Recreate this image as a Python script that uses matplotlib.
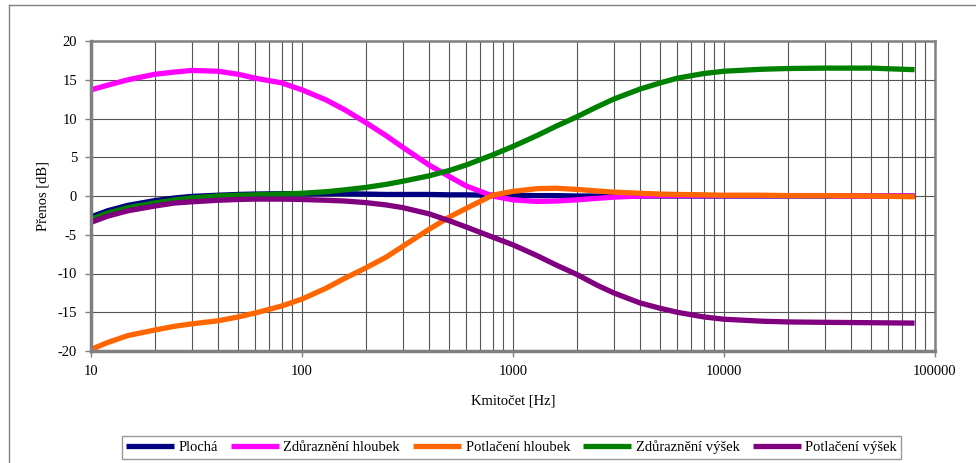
import matplotlib
matplotlib.use('Agg')
import matplotlib.pyplot as plt
from matplotlib.lines import Line2D
from matplotlib.ticker import LogLocator, NullFormatter

plt.rcParams['font.family'] = ['Liberation Serif', 'DejaVu Serif']
plt.rcParams['font.size'] = 10.5
plt.rcParams['axes.unicode_minus'] = False

# frequency points (Hz)
freq = [10, 12, 15, 20, 25, 30, 40, 50, 60, 80, 100, 130, 160, 200, 250, 300, 400, 500,
        600, 800, 1000, 1300, 1600, 2000, 2500, 3000, 4000, 5000, 6000, 8000, 10000,
        15000, 20000, 30000, 50000, 80000]

# transfer in dB
plocha = [-2.7, -1.9, -1.2, -0.6, -0.25, -0.05, 0.1, 0.2, 0.25, 0.3, 0.3, 0.3, 0.3, 0.25,
          0.2, 0.2, 0.2, 0.15, 0.15, 0.1, 0.1, 0.05, 0.05, 0.0, 0.0, 0.0, 0.0, 0.0, 0.0,
          0.0, 0.0, 0.0, 0.0, 0.0, 0.0, 0.0]
zdur_hloubek = [13.7, 14.3, 15.0, 15.7, 16.0, 16.2, 16.1, 15.7, 15.2, 14.6, 13.7, 12.4,
                11.1, 9.5, 7.8, 6.3, 4.0, 2.5, 1.3, 0.0, -0.5, -0.7, -0.65, -0.5, -0.3,
                -0.15, 0.0, 0.05, 0.05, 0.05, 0.05, 0.05, 0.05, 0.05, 0.0, 0.0]
potl_hloubek = [-19.8, -18.9, -18.0, -17.3, -16.8, -16.5, -16.1, -15.6, -15.1, -14.2,
                -13.3, -11.9, -10.6, -9.3, -7.9, -6.5, -4.3, -2.7, -1.6, 0.1, 0.6, 0.95,
                1.0, 0.85, 0.65, 0.5, 0.35, 0.25, 0.2, 0.15, 0.1, 0.1, 0.05, 0.05, 0.0, -0.1]
zdur_vysek = [-3.0, -2.2, -1.5, -0.9, -0.5, -0.25, 0.0, 0.1, 0.15, 0.25, 0.35, 0.55, 0.8,
              1.1, 1.5, 1.9, 2.6, 3.3, 4.0, 5.3, 6.4, 7.8, 9.0, 10.2, 11.5, 12.5, 13.8,
              14.6, 15.2, 15.8, 16.1, 16.35, 16.45, 16.5, 16.5, 16.3]
potl_vysek = [-3.4, -2.6, -1.9, -1.3, -0.9, -0.75, -0.55, -0.45, -0.4, -0.4, -0.45, -0.55,
              -0.65, -0.85, -1.15, -1.5, -2.3, -3.2, -4.0, -5.3, -6.3, -7.7, -8.9, -10.1,
              -11.5, -12.5, -13.8, -14.5, -15.0, -15.6, -15.9, -16.15, -16.25, -16.3,
              -16.35, -16.4]

series = [
    ('Plochá', plocha, '#000080'),
    ('Zdůraznění hloubek', zdur_hloubek, '#FF00FF'),
    ('Potlačení hloubek', potl_hloubek, '#FF6600'),
    ('Zdůraznění výšek', zdur_vysek, '#008000'),
    ('Potlačení výšek', potl_vysek, '#800080'),
]

x_ticks = [10, 100, 1000, 10000, 100000]
y_ticks = [-20, -15, -10, -5, 0, 5, 10, 15, 20]

fig = plt.figure(figsize=(9.76, 4.63), dpi=100)
ax = fig.add_axes([91 / 976, 1 - 351 / 463, (935 - 91) / 976, (351 - 41) / 463])

for name, vals, col in series:
    ax.plot(freq, vals, color=col, lw=3.8, label=name, solid_capstyle='butt')

ax.set_xscale('log')
ax.set_xlim(10, 100000)
ax.set_ylim(-20, 20)
ax.set_xticks(x_ticks)
ax.set_xticklabels([str(t) for t in x_ticks])
ax.xaxis.set_minor_locator(LogLocator(base=10, subs=range(2, 10)))
ax.xaxis.set_minor_formatter(NullFormatter())
ax.set_yticks(y_ticks)
ax.set_yticklabels([str(t) for t in y_ticks])

ax.grid(True, which='major', color='#555555', lw=0.8)
ax.grid(True, which='minor', axis='x', color='#555555', lw=0.8)
ax.set_axisbelow(True)
ax.tick_params(which='major', direction='out', length=4, color='#808080', width=1, pad=6)
ax.tick_params(which='minor', length=0)

for side in ['left', 'bottom']:
    ax.spines[side].set_color('#808080')
    ax.spines[side].set_linewidth(2.5)
for side in ['top', 'right']:
    ax.spines[side].set_color('#808080')
    ax.spines[side].set_linewidth(1.8)

ax.set_ylabel('Přenos [dB]', labelpad=6)
ax.set_xlabel('Kmitočet [Hz]', labelpad=12)

leg = fig.legend(loc='center', bbox_to_anchor=(511.5 / 976, 1 - 447.5 / 463), ncol=5,
                 frameon=True, fancybox=False, edgecolor='#808080', handlelength=3.3,
                 handletextpad=0.3, columnspacing=0.9, borderpad=0.3)
leg.get_frame().set_linewidth(1.0)

# outer chart frame (only left and top edges are in view)
fig.add_artist(Line2D([9 / 976, 9 / 976], [0, 1 - 5 / 463], color='#808080', lw=1,
                      transform=fig.transFigure))
fig.add_artist(Line2D([9 / 976, 1], [1 - 5 / 463, 1 - 5 / 463], color='#808080', lw=1,
                      transform=fig.transFigure))

fig.savefig('out.png', dpi=100)
